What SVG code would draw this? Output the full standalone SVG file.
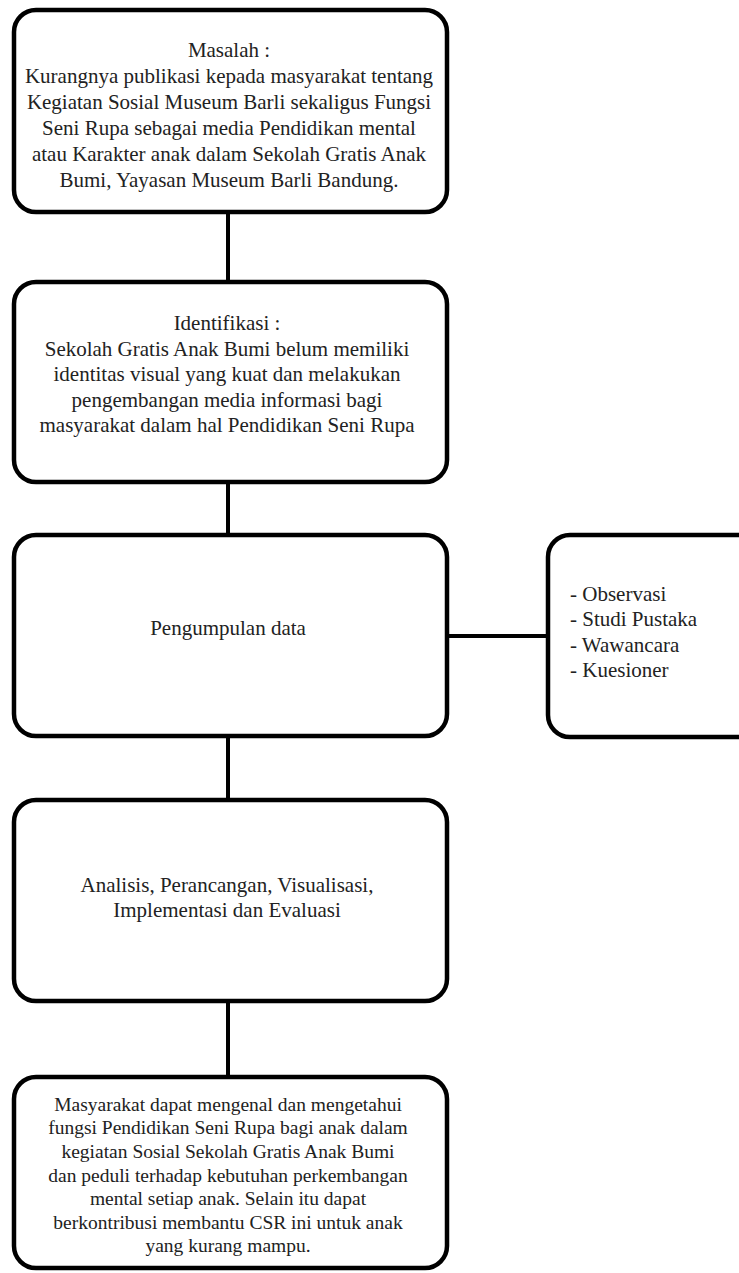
<svg xmlns="http://www.w3.org/2000/svg" width="739" height="1273" viewBox="0 0 739 1273">
<style>
.box{fill:#fff;stroke:#000;stroke-width:4.5}
.conn{stroke:#000;stroke-width:4;fill:none}
text{font-family:"Liberation Serif","Times New Roman",serif;font-size:21px;fill:#222}
.c{text-anchor:middle}
.s{font-size:19.5px}
</style>
<rect width="739" height="1273" fill="#fff"/>
<g id="connectors">
<line class="conn" x1="228" y1="212" x2="228" y2="282"/>
<line class="conn" x1="228" y1="482" x2="228" y2="535"/>
<line class="conn" x1="228" y1="736" x2="228" y2="800"/>
<line class="conn" x1="228" y1="1001" x2="228" y2="1077"/>
<line class="conn" x1="447" y1="636" x2="548" y2="636"/>
</g>
<g id="masalah">
<rect class="box" x="14" y="10" width="433" height="202" rx="22"/>
<text class="c" x="229" y="57">Masalah :</text>
<text class="c" x="229" y="83">Kurangnya publikasi kepada masyarakat tentang</text>
<text class="c" x="229" y="109">Kegiatan Sosial Museum Barli sekaligus Fungsi</text>
<text class="c" x="229" y="135">Seni Rupa sebagai media Pendidikan mental</text>
<text class="c" x="229" y="161">atau Karakter anak dalam Sekolah Gratis Anak</text>
<text class="c" x="229" y="187">Bumi, Yayasan Museum Barli Bandung.</text>
</g>
<g id="identifikasi">
<rect class="box" x="14" y="282" width="433" height="200" rx="22"/>
<text class="c" x="227" y="330">Identifikasi :</text>
<text class="c" x="227" y="356">Sekolah Gratis Anak Bumi belum memiliki</text>
<text class="c" x="227" y="381">identitas visual yang kuat dan melakukan</text>
<text class="c" x="227" y="407">pengembangan media informasi bagi</text>
<text class="c" x="227" y="432">masyarakat dalam hal Pendidikan Seni Rupa</text>
</g>
<g id="pengumpulan">
<rect class="box" x="14" y="535" width="433" height="201" rx="22"/>
<text class="c" x="228" y="635">Pengumpulan data</text>
</g>
<g id="metode">
<rect class="box" x="548" y="535" width="215" height="202" rx="22"/>
<text x="570" y="601">- Observasi</text>
<text x="570" y="626">- Studi Pustaka</text>
<text x="570" y="652">- Wawancara</text>
<text x="570" y="677">- Kuesioner</text>
</g>
<g id="analisis">
<rect class="box" x="14" y="800" width="433" height="201" rx="22"/>
<text class="c" x="227" y="892">Analisis, Perancangan, Visualisasi,</text>
<text class="c" x="227" y="917">Implementasi dan Evaluasi</text>
</g>
<g id="hasil">
<rect class="box" x="14" y="1077" width="433" height="191" rx="22"/>
<text class="c s" x="228" y="1111">Masyarakat dapat mengenal dan mengetahui</text>
<text class="c s" x="228" y="1134">fungsi Pendidikan Seni Rupa bagi anak dalam</text>
<text class="c s" x="228" y="1158">kegiatan Sosial Sekolah Gratis Anak Bumi</text>
<text class="c s" x="228" y="1182">dan peduli terhadap kebutuhan perkembangan</text>
<text class="c s" x="228" y="1205">mental setiap anak. Selain itu dapat</text>
<text class="c s" x="228" y="1229">berkontribusi membantu CSR ini untuk anak</text>
<text class="c s" x="228" y="1252">yang kurang mampu.</text>
</g>
</svg>
